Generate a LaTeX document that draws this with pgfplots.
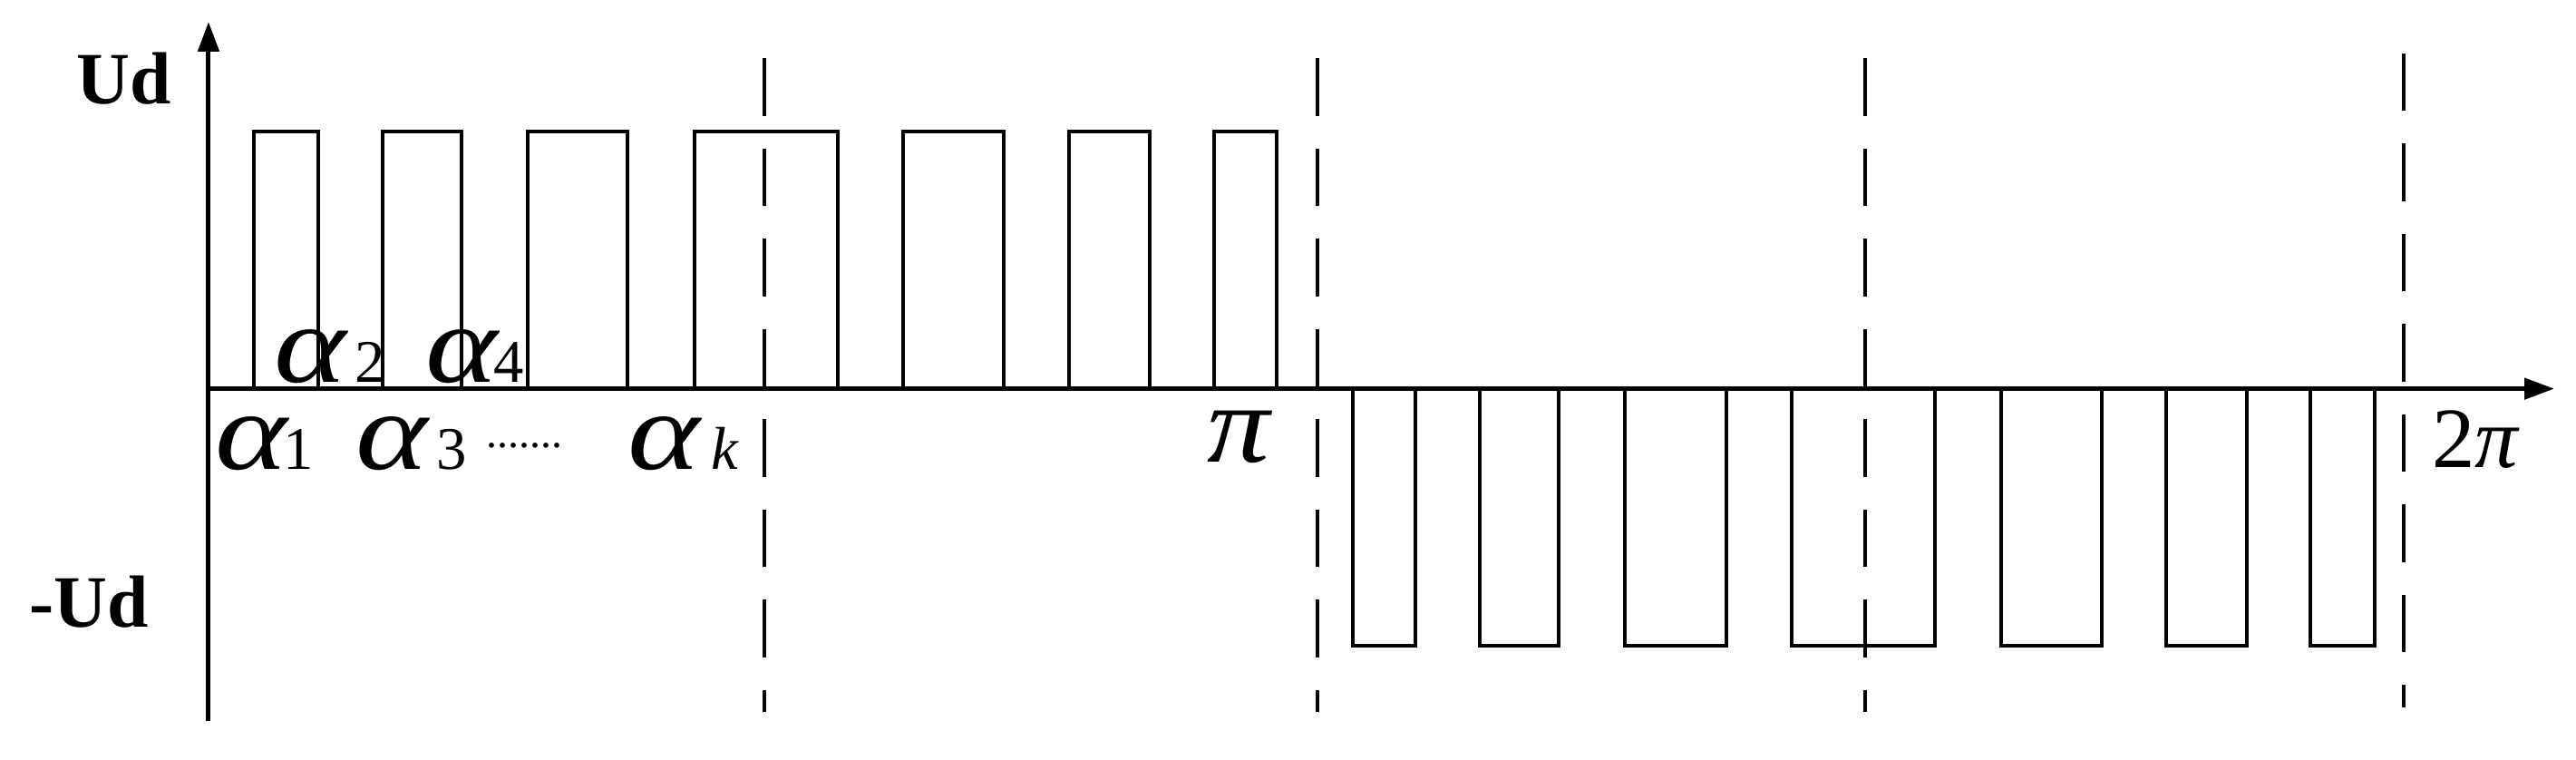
\documentclass[border=0pt]{standalone}
\usepackage{fontspec}
\setmainfont{Liberation Serif}
\usepackage{pgfplots}
\pgfplotsset{compat=1.18}
\usetikzlibrary{arrows.meta}

% wide italic alpha + index, sized like the figure
\newcommand{\wa}{\scalebox{1.27}[1.03]{\fontsize{17}{17}\selectfont\itshape α}}
\newcommand{\al}[2][0pt]{\wa\hspace{#1}{\fontsize{9.5}{9.5}\selectfont #2}}
% labels above the axis have no depth, labels below only the ink height
\newcommand{\up}[1]{\raisebox{0pt}[\height][0pt]{#1}}
\newcommand{\dn}[1]{\raisebox{0pt}[9pt][\depth]{#1}}
\tikzset{lbl/.style={inner sep=0pt, anchor=base west}}

\begin{document}
\begin{tikzpicture}
\begin{axis}[
  x=0.005cm, y=1.42cm,
  xmin=0, xmax=2587,
  ymin=-1.292, ymax=1.426,
  axis lines=middle,
  axis line style={line width=0.025cm, -{Triangle[length=0.165cm,width=0.115cm]}},
  xtick=\empty, ytick=\empty,
  clip=false,
  every axis plot/.append style={black, line width=0.02cm, line join=miter},
]
% positive half wave
\addplot[sharp plot] coordinates {
  (0,0) (50,0) (50,1) (121,1) (121,0)
  (192,0) (192,1) (279,1) (279,0)
  (352,0) (352,1) (462,1) (462,0)
  (536,0) (536,1) (694,1) (694,0)
  (766,0) (766,1) (877,1) (877,0)
  (949,0) (949,1) (1038,1) (1038,0)
  (1109,0) (1109,1) (1178,1) (1178,0) (1223,0)
};
% negative half wave
\addplot[sharp plot] coordinates {
  (1223,0) (1262,0) (1262,-1) (1331,-1) (1331,0)
  (1402,0) (1402,-1) (1489,-1) (1489,0)
  (1562,0) (1562,-1) (1674,-1) (1674,0)
  (1746,0) (1746,-1) (1904,-1) (1904,0)
  (1977,0) (1977,-1) (2088,-1) (2088,0)
  (2159,0) (2159,-1) (2248,-1) (2248,0)
  (2318,0) (2318,-1) (2389,-1) (2389,0) (2421,0)
};
% quarter-period dashed markers
\addplot[line width=0.0225cm, dash pattern=on 0.318cm off 0.18cm] coordinates {(613,1.285) (613,-1.257)};
\addplot[line width=0.0225cm, dash pattern=on 0.318cm off 0.18cm] coordinates {(1223,1.285) (1223,-1.257)};
\addplot[line width=0.0225cm, dash pattern=on 0.318cm off 0.18cm] coordinates {(1827,1.285) (1827,-1.257)};
\addplot[line width=0.0225cm, dash pattern=on 0.318cm off 0.18cm] coordinates {(2421,1.303) (2421,-1.239)};

% labels
\node[lbl] at (axis cs:-147,1.106) {\fontsize{11.6}{12}\selectfont\bfseries Ud};
\node[lbl] at (axis cs:-199,-0.926) {\fontsize{11.6}{12}\selectfont\bfseries -Ud};
\node[lbl] at (axis cs:71,0.025) {\up{\al[1.35pt]{2}}};
\node[lbl] at (axis cs:238,0.025) {\up{\al[-0.6pt]{4}}};
\node[lbl] at (axis cs:6,-0.313) {\dn{\al[-0.6pt]{1}}};
\node[lbl] at (axis cs:161,-0.313) {\dn{\al[1.3pt]{3}}};
\node[lbl] at (axis cs:461,-0.313) {\dn{\wa\hspace{1.8pt}{\fontsize{9.5}{9.5}\selectfont\itshape k}}};
\node[lbl] at (axis cs:305,-0.229) {\fontsize{6.8}{7}\selectfont .......};
\node[lbl] at (axis cs:1100,-0.285) {\scalebox{1.12}[1]{\fontsize{17.5}{18}\selectfont\itshape π}};
\node[lbl] at (axis cs:2451,-0.306) {\fontsize{13.5}{14}\selectfont 2\textit{π}};

% page extent of the reference
\path (axis cs:-230,1.5106) rectangle (axis cs:2611,-1.440);
\end{axis}
\end{tikzpicture}
\end{document}
